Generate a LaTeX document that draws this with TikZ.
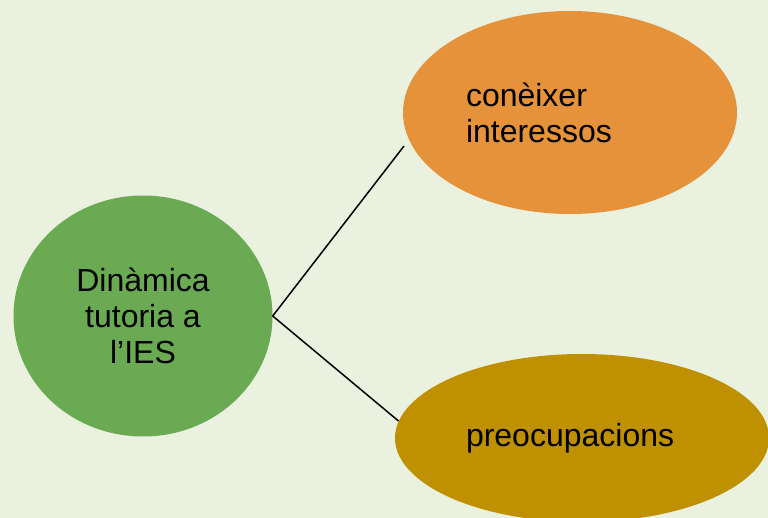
\documentclass[tikz,border=0pt]{standalone}
\usepackage{fontspec}
\setmainfont{Liberation Sans}
\usetikzlibrary{shapes.geometric}

\definecolor{bgcol}{RGB}{234,241,222}
\definecolor{tutgreen}{RGB}{106,170,82}
\definecolor{tutorange}{RGB}{230,146,58}
\definecolor{tutgold}{RGB}{191,144,0}

\begin{document}
\begin{tikzpicture}[x=1pt,y=-1pt]

\tikzset{bubble/.style = {shape=ellipse, inner sep=0pt, font=\fontsize{32}{36}\selectfont}}
\tikzset{edge/.style = {line width=1.5pt, black}}
%background
\fill[bgcol] (0,0) rectangle (768,518);
\useasboundingbox (0,0) rectangle (768,518);
%bubbles
\node[bubble, fill=tutgreen, minimum width=259pt, minimum height=241pt, align=center] (din) at (143,316) {Dinàmica\\tutoria a\\l’IES};
\node[bubble, fill=tutorange, minimum width=334pt, minimum height=203pt, text width=208pt, align=left] (con) at (570,112.5) {conèixer\\interessos};
\node[bubble, fill=tutgold, minimum width=374pt, minimum height=168pt, text width=232pt, align=left] (pre) at (582,438) {preocupacions};
%ends
\coordinate (conend) at (404,146);
\coordinate (preend) at (398.5,421);
\draw[edge] (din.east) -- (conend);
\draw[edge] (din.east) -- (preend);

\end{tikzpicture}
\end{document}
